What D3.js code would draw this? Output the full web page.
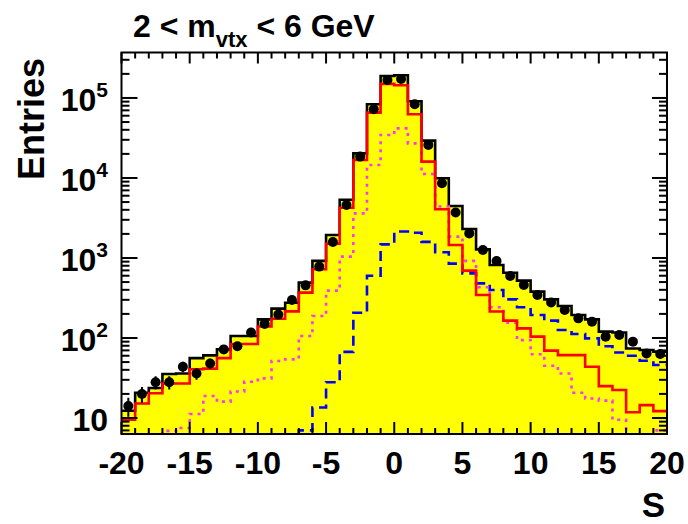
<!DOCTYPE html>
<html>
<head>
<meta charset="utf-8">
<script src="https://cdn.jsdelivr.net/npm/d3@7"></script>
<style>
  body { margin: 0; background: #fff; }
  text { font-family: "Liberation Sans", Arial, Helvetica, sans-serif; font-weight: bold; fill: #000; }
</style>
</head>
<body>
<div class="chart"></div>
<script>
// bins of width 1 from -20 to 20
var binEdges = d3.range(-20, 21);

// total MC (yellow, black outline)
var totalMC = [12.3, 20.7, 23.7, 35.5, 36, 56, 60.7, 72, 106, 106,
  171, 233, 276, 492, 920, 1940, 5350, 20300, 83400, 188000,
  192000, 91000, 29300, 9900, 4470, 2300, 1280, 818, 655, 521,
  380, 304, 251, 194, 171, 120, 117, 74, 70.8, 67.5];

// red solid component
var redComp = [9.5, 15.2, 20.4, 27, 27, 40.6, 41.4, 56, 84, 84,
  139, 174, 215, 369, 722, 1510, 4250, 16800, 65600, 150000,
  144000, 62600, 16000, 4060, 1450, 695, 345, 214, 165, 132,
  104, 69.5, 61, 61, 43.8, 25, 22.4, 11.8, 14.5, 12.2];

// magenta dotted component
var pinkComp = [1, 1, 1, 6.9, 7.5, 11.2, 18.8, 16, 21.4, 28.4,
  31.3, 51.6, 54, 106, 188, 391, 1040, 3610, 14500, 34500,
  41700, 27100, 11200, 4400, 1850, 920, 430, 242, 155, 94,
  62.5, 45, 36, 20.7, 17.5, 16.5, 9.5, 1, 1, 7];

// blue dashed component
var blueComp = [1, 1, 1, 1, 1, 1, 1, 1, 1, 1,
  1, 1, 1, 7, 13.5, 28, 67, 207, 600, 1480,
  2140, 2070, 1590, 1180, 850, 643, 482, 398, 304, 242,
  194, 165, 126, 112, 99, 79, 66, 60, 52, 46];

// data points
var dataPts = [14.1, 20, 28, 28, 43.8, 36, 48, 72, 79, 117,
  150, 196, 298, 455, 780, 1580, 4600, 18500, 72200, 168000,
  173000, 83400, 25900, 8570, 3700, 2030, 1259, 918, 596, 460,
  345, 277, 224, 176, 160, 104, 109, 90, 64, 63];

var xTickVals = [-20, -15, -10, -5, 0, 5, 10, 15, 20];
var yTickVals = [10, 100, 1000, 10000, 100000];
var yTickExp = ["", "2", "3", "4", "5"];

var svgWidth = 688, svgHeight = 524;
var x0 = 121.5, x1 = 667, y0 = 52.5, y1 = 434;

var svg = d3.select(".chart")
  .append("svg")
  .attr("width", svgWidth)
  .attr("height", svgHeight);

var xScale = d3.scaleLinear().domain([-20, 20]).range([x0, x1]);
var yScale = d3.scaleLog().domain([6.31, 370000]).range([y1, y0]);

svg.append("clipPath").attr("id", "plotclip")
  .append("rect")
  .attr("x", x0).attr("y", y0)
  .attr("width", x1 - x0).attr("height", y1 - y0);

var plot = svg.append("g").attr("clip-path", "url(#plotclip)");

function stepPoints(vals) {
  var pts = vals.map(function(v, i) { return [binEdges[i], v]; });
  pts.push([20, vals[vals.length - 1]]);
  return pts;
}

var stepLine = d3.line()
  .x(function(d) { return xScale(d[0]); })
  .y(function(d) { return yScale(d[1]); })
  .curve(d3.curveStepAfter);

var stepArea = d3.area()
  .x(function(d) { return xScale(d[0]); })
  .y0(y1 + 5)
  .y1(function(d) { return yScale(d[1]); })
  .curve(d3.curveStepAfter);

// yellow stack
plot.append("path")
  .datum(stepPoints(totalMC))
  .attr("d", stepArea)
  .attr("fill", "#ffff00");

plot.append("path")
  .datum(stepPoints(totalMC))
  .attr("d", stepLine)
  .attr("fill", "none")
  .attr("stroke", "#000")
  .attr("stroke-width", 2.6);

plot.append("path")
  .datum(stepPoints(blueComp))
  .attr("d", stepLine)
  .attr("fill", "none")
  .attr("stroke", "#0000ff")
  .attr("stroke-width", 2.6)
  .attr("stroke-dasharray", "10,6");

plot.append("path")
  .datum(stepPoints(pinkComp))
  .attr("d", stepLine)
  .attr("fill", "none")
  .attr("stroke", "#ff33ff")
  .attr("stroke-width", 2.6)
  .attr("stroke-dasharray", "3,5");

plot.append("path")
  .datum(stepPoints(redComp))
  .attr("d", stepLine)
  .attr("fill", "none")
  .attr("stroke", "#ff0000")
  .attr("stroke-width", 2.6);

// data points with sqrt(N) error bars
var pts = plot.append("g");
dataPts.forEach(function(v, i) {
  var cx = xScale(binEdges[i] + 0.5);
  var err = Math.sqrt(v);
  pts.append("line")
    .attr("x1", cx).attr("x2", cx)
    .attr("y1", yScale(v + err)).attr("y2", yScale(Math.max(v - err, 1)))
    .attr("stroke", "#000").attr("stroke-width", 2);
  pts.append("circle")
    .attr("cx", cx).attr("cy", yScale(v))
    .attr("r", 5)
    .attr("fill", "#000");
});

// frame
svg.append("rect")
  .attr("x", x0).attr("y", y0)
  .attr("width", x1 - x0).attr("height", y1 - y0)
  .attr("fill", "none")
  .attr("stroke", "#000")
  .attr("stroke-width", 2);

var ticks = svg.append("g").attr("stroke", "#000").attr("stroke-width", 2);

// x ticks, bottom and top
binEdges.forEach(function(e) {
  var major = (e % 5 === 0);
  var xx = xScale(e);
  ticks.append("line").attr("x1", xx).attr("x2", xx)
    .attr("y1", y1).attr("y2", y1 - (major ? 12 : 6));
  ticks.append("line").attr("x1", xx).attr("x2", xx)
    .attr("y1", y0).attr("y2", y0 + (major ? 11 : 6));
});

// y ticks, log minors
var yMinor = [];
[1, 10, 100, 1000, 10000, 100000].forEach(function(dec) {
  for (var k = 2; k <= 9; k++) yMinor.push(dec * k);
});
yMinor.forEach(function(v) {
  if (v < 6.31 || v > 370000) return;
  var yy = yScale(v);
  ticks.append("line").attr("x1", x0).attr("x2", x0 + 8).attr("y1", yy).attr("y2", yy);
  ticks.append("line").attr("x1", x1).attr("x2", x1 - 8).attr("y1", yy).attr("y2", yy);
});
yTickVals.forEach(function(v) {
  var yy = yScale(v);
  ticks.append("line").attr("x1", x0).attr("x2", x0 + 16).attr("y1", yy).attr("y2", yy);
  ticks.append("line").attr("x1", x1).attr("x2", x1 - 15).attr("y1", yy).attr("y2", yy);
});

// x tick labels
svg.selectAll(".xlab")
  .data(xTickVals)
  .enter().append("text")
  .attr("class", "xlab")
  .attr("x", function(d) { return xScale(d); })
  .attr("y", 474)
  .attr("text-anchor", "middle")
  .style("font-size", "32px")
  .text(function(d) { return d; });

// y tick labels
yTickVals.forEach(function(v, i) {
  var t = svg.append("text")
    .attr("x", 108)
    .attr("y", yScale(v) + 13)
    .attr("text-anchor", "end")
    .style("font-size", "32px");
  t.append("tspan").text("10");
  if (yTickExp[i]) {
    t.append("tspan")
      .attr("dy", -14)
      .style("font-size", "21px")
      .text(yTickExp[i]);
  }
});

// axis titles
svg.append("text")
  .attr("transform", "translate(44,58) rotate(-90)")
  .attr("text-anchor", "end")
  .style("font-size", "36px")
  .text("Entries");

svg.append("text")
  .attr("x", 665)
  .attr("y", 517)
  .attr("text-anchor", "end")
  .style("font-size", "35px")
  .text("S");

// title
var title = svg.append("text")
  .attr("x", 133)
  .attr("y", 37)
  .style("font-size", "32px");
title.append("tspan").text("2 < m");
title.append("tspan").attr("dy", 10).style("font-size", "22px").text("vtx");
title.append("tspan").attr("dy", -10).text(" < 6 GeV");
</script>
</body>
</html>
